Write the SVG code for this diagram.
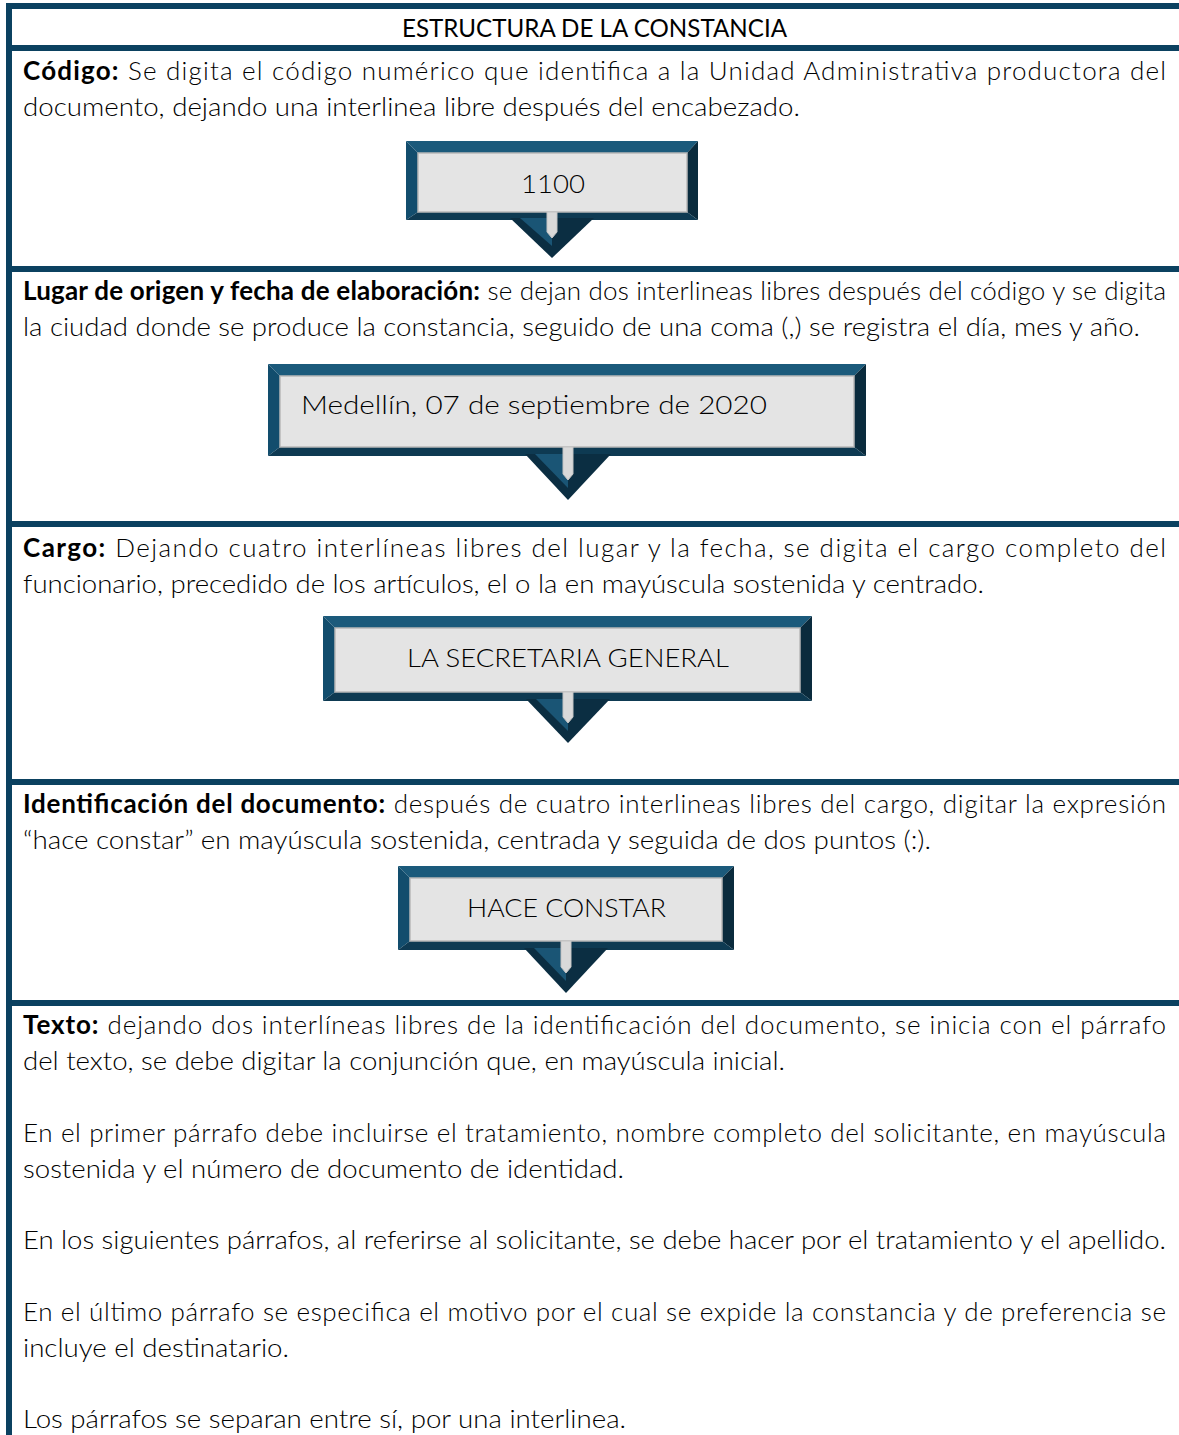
<svg xmlns="http://www.w3.org/2000/svg" width="1179" height="1435" viewBox="0 0 1179 1435">
<style>
.bar{fill:#0b4160}
.t{font-family:Lato,"Open Sans","Liberation Sans",sans-serif;font-size:26px;font-weight:300;fill:#000}
.b{font-weight:700;fill:#000}
.ttl{font-family:Lato,"Open Sans","Liberation Sans",sans-serif;font-size:25px;font-weight:400;fill:#000}
.bx{font-family:Lato,"Open Sans","Liberation Sans",sans-serif;font-size:26px;font-weight:300;fill:#000}
.ft{fill:#1b5a7b}
.fl{fill:#124d6d}
.fr{fill:#0a2b3d}
.fb{fill:#0e3a52}
.ar{fill:#0b2e42}
.al{fill:#1a5575}
.in{fill:#e4e4e4;stroke:#b8b8b8;stroke-width:1.5}
.st{fill:#d9d9d9;stroke:#c4c4c4;stroke-width:1}
</style>
<rect width="1179" height="1435" fill="#fff"/>
<g id="connectors">
<rect class="bar" x="6" y="3" width="6" height="1432"/>
<rect class="bar" x="6" y="3" width="1173" height="6"/>
<rect class="bar" x="6" y="45" width="1173" height="6"/>
<rect class="bar" x="6" y="266" width="1173" height="6"/>
<rect class="bar" x="6" y="521" width="1173" height="6"/>
<rect class="bar" x="6" y="779" width="1173" height="6"/>
<rect class="bar" x="6" y="1000" width="1173" height="6"/>
</g>
<g id="title">
<text class="ttl" x="402" y="37" textLength="385" lengthAdjust="spacingAndGlyphs">ESTRUCTURA DE LA CONSTANCIA</text>
</g>
<g id="sec-codigo">
<text class="t" x="23" y="80" textLength="1143" lengthAdjust="spacing"><tspan class="b">Código:</tspan> Se digita el código numérico que identifica a la Unidad Administrativa productora del</text>
<text class="t" x="23" y="116" textLength="777" lengthAdjust="spacingAndGlyphs">documento, dejando una interlinea libre después del encabezado.</text>
</g>
<g id="box-codigo">
<polygon class="ft" points="406,141 698,141 687,153 418,153"/>
<polygon class="fl" points="406,141 418,153 418,212 406,220"/>
<polygon class="fr" points="698,141 698,220 687,212 687,153"/>
<polygon class="fb" points="406,220 418,212 687,212 698,220"/>
<polygon class="ar" points="510,218 594,218 552,258"/>
<polygon class="al" points="520,218 552,218 552,246"/>
<rect class="in" x="418" y="153" width="269" height="59"/>
<polygon class="st" points="547,212 557,212 557,232 552,238 547,232"/>
<text class="bx" x="521" y="193" textLength="64" lengthAdjust="spacingAndGlyphs">1100</text>
</g>
<g id="sec-lugar">
<text class="t" x="23" y="300" textLength="1143" lengthAdjust="spacing"><tspan class="b">Lugar de origen y fecha de elaboración:</tspan> se dejan dos interlineas libres después del código y se digita</text>
<text class="t" x="23" y="336" textLength="1117" lengthAdjust="spacingAndGlyphs">la ciudad donde se produce la constancia, seguido de una coma (,) se registra el día, mes y año.</text>
</g>
<g id="box-lugar">
<polygon class="ft" points="268,364 866,364 854,376 280,376"/>
<polygon class="fl" points="268,364 280,376 280,447 268,456"/>
<polygon class="fr" points="866,364 866,456 854,447 854,376"/>
<polygon class="fb" points="268,456 280,447 854,447 866,456"/>
<polygon class="ar" points="525,454 611,454 568,500"/>
<polygon class="al" points="535,454 568,454 568,488"/>
<rect class="in" x="280" y="376" width="574" height="71"/>
<polygon class="st" points="563,447 573,447 573,474 568,480 563,474"/>
<text class="bx" x="301" y="414" textLength="466" lengthAdjust="spacingAndGlyphs">Medellín, 07 de septiembre de 2020</text>
</g>
<g id="sec-cargo">
<text class="t" x="23" y="557" textLength="1143" lengthAdjust="spacing"><tspan class="b">Cargo:</tspan> Dejando cuatro interlíneas libres del lugar y la fecha, se digita el cargo completo del</text>
<text class="t" x="23" y="593" textLength="961" lengthAdjust="spacingAndGlyphs">funcionario, precedido de los artículos, el o la en mayúscula sostenida y centrado.</text>
</g>
<g id="box-cargo">
<polygon class="ft" points="323,616 812,616 800,628 335,628"/>
<polygon class="fl" points="323,616 335,628 335,692 323,701"/>
<polygon class="fr" points="812,616 812,701 800,692 800,628"/>
<polygon class="fb" points="323,701 335,692 800,692 812,701"/>
<polygon class="ar" points="526,699 610,699 568,743"/>
<polygon class="al" points="536,699 568,699 568,731"/>
<rect class="in" x="335" y="628" width="465" height="64"/>
<polygon class="st" points="563,692 573,692 573,717 568,723 563,717"/>
<text class="bx" x="407" y="667" textLength="322" lengthAdjust="spacingAndGlyphs">LA SECRETARIA GENERAL</text>
</g>
<g id="sec-identificacion">
<text class="t" x="23" y="813" textLength="1143" lengthAdjust="spacing"><tspan class="b">Identificación del documento:</tspan> después de cuatro interlineas libres del cargo, digitar la expresión</text>
<text class="t" x="23" y="849" textLength="908" lengthAdjust="spacingAndGlyphs">“hace constar” en mayúscula sostenida, centrada y seguida de dos puntos (:).</text>
</g>
<g id="box-identificacion">
<polygon class="ft" points="398,866 734,866 722,878 410,878"/>
<polygon class="fl" points="398,866 410,878 410,941 398,950"/>
<polygon class="fr" points="734,866 734,950 722,941 722,878"/>
<polygon class="fb" points="398,950 410,941 722,941 734,950"/>
<polygon class="ar" points="524,948 608,948 566,993"/>
<polygon class="al" points="534,948 566,948 566,981"/>
<rect class="in" x="410" y="878" width="312" height="63"/>
<polygon class="st" points="561,941 571,941 571,967 566,973 561,967"/>
<text class="bx" x="467" y="917" textLength="199" lengthAdjust="spacingAndGlyphs">HACE CONSTAR</text>
</g>
<g id="sec-texto">
<text class="t" x="23" y="1034" textLength="1143" lengthAdjust="spacing"><tspan class="b">Texto:</tspan> dejando dos interlíneas libres de la identificación del documento, se inicia con el párrafo</text>
<text class="t" x="23" y="1070" textLength="762" lengthAdjust="spacingAndGlyphs">del texto, se debe digitar la conjunción que, en mayúscula inicial.</text>
<text class="t" x="23" y="1142" textLength="1143" lengthAdjust="spacing">En el primer párrafo debe incluirse el tratamiento, nombre completo del solicitante, en mayúscula</text>
<text class="t" x="23" y="1178" textLength="601" lengthAdjust="spacingAndGlyphs">sostenida y el número de documento de identidad.</text>
<text class="t" x="23" y="1249" textLength="1143" lengthAdjust="spacingAndGlyphs">En los siguientes párrafos, al referirse al solicitante, se debe hacer por el tratamiento y el apellido.</text>
<text class="t" x="23" y="1321" textLength="1143" lengthAdjust="spacing">En el último párrafo se especifica el motivo por el cual se expide la constancia y de preferencia se</text>
<text class="t" x="23" y="1357" textLength="266" lengthAdjust="spacingAndGlyphs">incluye el destinatario.</text>
<text class="t" x="23" y="1428" textLength="603" lengthAdjust="spacingAndGlyphs">Los párrafos se separan entre sí, por una interlinea.</text>
</g>
</svg>
